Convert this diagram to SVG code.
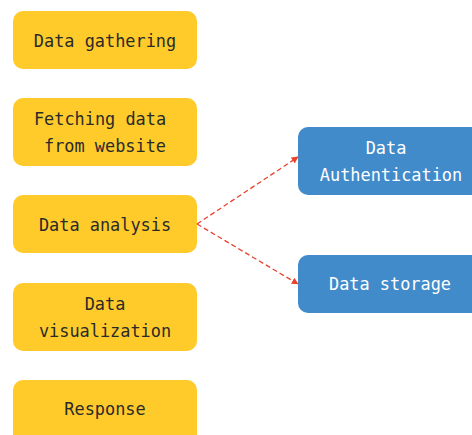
<svg xmlns="http://www.w3.org/2000/svg" width="472" height="435" viewBox="0 0 472 435">
  <style>
    .step rect { fill: #FFCB2B; }
    .store rect { fill: #418BCB; }
    text { font-family: "DejaVu Sans Mono", "Liberation Mono", monospace; font-size: 16.9px; text-anchor: middle; }
    .step text { fill: #2a2a2a; }
    .store text { fill: #ffffff; }
    .link { fill: none; stroke: #E8432D; stroke-width: 1.3; stroke-dasharray: 5 3; marker-end: url(#head); }
  </style>
  <defs>
    <marker id="head" viewBox="0 0 10 10" refX="9" refY="5" markerWidth="7" markerHeight="7" markerUnits="userSpaceOnUse" orient="auto">
      <path d="M0,0 L10,5 L0,10 z" fill="#E8432D"/>
    </marker>
  </defs>
  <rect width="472" height="435" fill="#ffffff"/>

  <g id="gathering" class="step">
    <rect x="13" y="11" width="184" height="58" rx="10"/>
    <text x="105" y="47">Data gathering</text>
  </g>
  <g id="fetching" class="step">
    <rect x="13" y="98" width="184" height="68" rx="10"/>
    <text x="100" y="125">Fetching data</text>
    <text x="105" y="152">from website</text>
  </g>
  <g id="analysis" class="step">
    <rect x="13" y="195" width="184" height="58" rx="10"/>
    <text x="105" y="231">Data analysis</text>
  </g>
  <g id="visualization" class="step">
    <rect x="13" y="283" width="184" height="68" rx="10"/>
    <text x="105" y="310">Data</text>
    <text x="105" y="337">visualization</text>
  </g>
  <g id="response" class="step">
    <rect x="13" y="380" width="184" height="66" rx="10"/>
    <text x="105" y="415">Response</text>
  </g>

  <g id="authentication" class="store">
    <rect x="298" y="127" width="184" height="68" rx="10"/>
    <text x="386" y="154">Data</text>
    <text x="391" y="181">Authentication</text>
  </g>
  <g id="storage" class="store">
    <rect x="298" y="255" width="184" height="58" rx="10"/>
    <text x="390" y="290">Data storage</text>
  </g>

  <g id="connectors">
    <path class="link" d="M197,224 L298,157"/>
    <path class="link" d="M197,224 L298,284"/>
  </g>
</svg>
